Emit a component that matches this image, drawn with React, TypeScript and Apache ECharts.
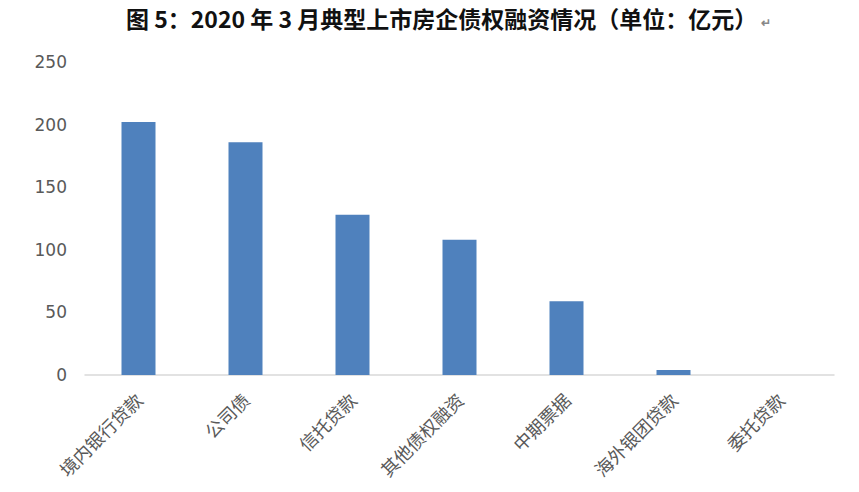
import React, { useEffect, useRef } from "react";
import * as echarts from "echarts";

const categories = ["境内银行贷款", "公司债", "信托贷款", "其他债权融资", "中期票据", "海外银团贷款", "委托贷款"];
const values = [202, 186, 128, 108, 59, 4, 0];
const titleText = "图 5：2020 年 3 月典型上市房企债权融资情况（单位：亿元）";

const App: React.FC = () => {
  const chartRef = useRef<HTMLDivElement>(null);

  useEffect(() => {
    if (!chartRef.current) return;
    const chart = echarts.init(chartRef.current, undefined, { renderer: "svg" });

    const option = {
      animation: false,
      backgroundColor: "#ffffff",
      title: {
        text: titleText + "{mark|↵}",
        left: 126,
        top: 6,
        padding: 0,
        textStyle: {
          fontFamily: "Noto Sans CJK SC",
          fontSize: 23,
          lineHeight: 24,
          fontWeight: "bold",
          color: "#111111",
          rich: {
            mark: { fontSize: 12, color: "#888888", padding: [6, 0, 0, 4] },
          },
        },
      },
      grid: { left: 85, right: 25, top: 62, bottom: 117, outerBoundsMode: "none" },
      xAxis: {
        type: "category",
        data: categories,
        axisLine: { lineStyle: { color: "#d9d9d9", width: 1.5 } },
        axisTick: { show: false },
        axisLabel: {
          rotate: 45,
          margin: 21,
          fontSize: 18,
          color: "#595959",
          fontFamily: "Noto Sans CJK SC",
        },
      },
      yAxis: {
        type: "value",
        min: 0,
        max: 250,
        interval: 50,
        splitLine: { show: false },
        axisLine: { show: false },
        axisTick: { show: false },
        axisLabel: {
          margin: 18,
          fontSize: 17,
          color: "#595959",
          fontFamily: "DejaVu Sans",
        },
      },
      series: [
        {
          type: "bar",
          data: values,
          barWidth: 34,
          itemStyle: { color: "#4f81bd" },
        },
      ],
    };

    chart.setOption(option);
    return () => {
      chart.dispose();
    };
  }, []);

  return <div ref={chartRef} style={{ width: 859, height: 492, margin: -8 }} />;
};

export default App;
